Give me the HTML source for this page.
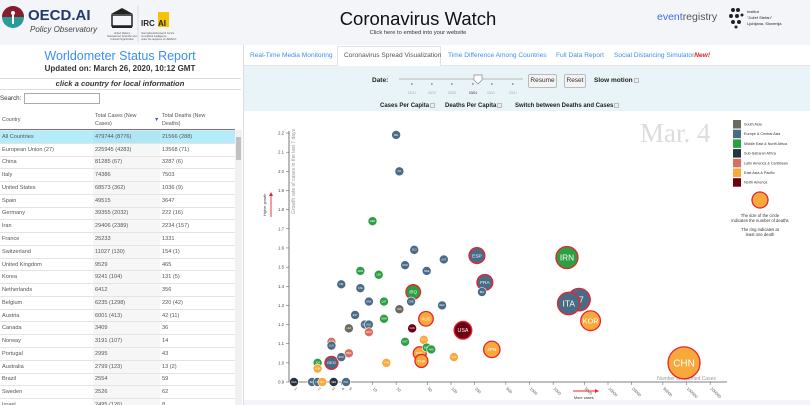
<!DOCTYPE html>
<html><head><meta charset="utf-8">
<style>
*{box-sizing:border-box;margin:0;padding:0}
body{width:810px;height:405px;overflow:hidden;background:#f4f5f9;font-family:"Liberation Sans",sans-serif;position:relative}
.abs{position:absolute}
#left{left:0;top:45px;width:243px;height:360px;background:#fff}
#right{left:244px;top:45px;width:566px;height:355px;background:#fff}
table{border-collapse:collapse;font-size:5.6px;color:#555}
td{height:12.77px;border-top:1px solid #e4e4e4;padding-left:2px;white-space:nowrap}
.tab{position:absolute;top:52px;font-size:6.6px;color:#3b8ff0;white-space:nowrap}
.btn{position:absolute;border:1px solid #bbb;background:#f3f3f3;border-radius:2px;font-size:6.5px;color:#333;text-align:center;line-height:12px}
.cb{display:inline-block;width:5px;height:5px;border:1px solid #bbb;background:#eee;vertical-align:middle;margin-left:1px}
.b{font-weight:bold;font-size:6.5px;color:#222;position:absolute;white-space:nowrap}
</style></head><body>
<!-- header -->
<div class="abs" style="left:0;top:0;width:810px;height:44px;background:#f4f5f9">
  <svg class="abs" style="left:0;top:0" width="270" height="45">
    <circle cx="13" cy="17" r="11" fill="#2a9a9a"/><path d="M2 17 A11 11 0 0 1 24 17 Z" fill="#8a1d2c"/>
    <circle cx="13" cy="13" r="2" fill="#fff"/><rect x="12" y="15" width="2" height="9" fill="#fff"/>
    <text x="28" y="20" font-size="15" font-weight="bold" fill="#1f3a6b" font-family="Liberation Sans">OECD.AI</text>
    <text x="30" y="32" font-size="8" font-style="italic" fill="#444" font-family="Liberation Sans">Policy Observatory</text>
    <path d="M111 14 L122 8 L133 14 Z" fill="#222"/><rect x="112" y="15" width="20" height="11" fill="none" stroke="#222" stroke-width="1.5"/>
    <rect x="112" y="26" width="20" height="2" fill="#222"/>
    <text x="122" y="34" font-size="2.5" text-anchor="middle" fill="#555">United Nations</text>
    <text x="122" y="37" font-size="2.5" text-anchor="middle" fill="#555">Educational, Scientific and</text>
    <text x="122" y="40" font-size="2.5" text-anchor="middle" fill="#555">Cultural Organization</text>
    <line x1="138" y1="5" x2="138" y2="42" stroke="#ccc" stroke-width="0.6"/>
    <rect x="158" y="12" width="11" height="15" fill="#f5c400"/>
    <text x="141" y="26" font-size="8" font-weight="bold" fill="#222">IRC</text><text x="158" y="26" font-size="8" font-weight="bold" fill="#222">AI</text>
    <text x="141" y="34" font-size="2.5" fill="#555">International Research Centre</text>
    <text x="141" y="37" font-size="2.5" fill="#555">on Artificial Intelligence</text>
    <text x="141" y="40" font-size="2.5" fill="#555">under the auspices of UNESCO</text>
  </svg>
  <div class="abs" style="left:320px;top:8px;width:196px;text-align:center;font-size:18.5px;color:#111">Coronavirus Watch</div>
  <div class="abs" style="left:320px;top:30px;width:196px;text-align:center;font-size:5.8px;color:#333">Click here to embed into your website</div>
  <div class="abs" style="left:657px;top:11px;font-size:10.5px;color:#555"><span style="color:#3a6fd8">event</span>registry</div>
  <svg class="abs" style="left:728px;top:7px" width="80" height="24">
    <circle cx="5" cy="3" r="2" fill="#222"/><circle cx="10" cy="3" r="2" fill="#222"/><circle cx="3" cy="9" r="2" fill="#222"/><circle cx="9" cy="9" r="2" fill="#222"/><circle cx="14" cy="8" r="1.5" fill="#222"/><circle cx="5" cy="15" r="2" fill="#222"/><circle cx="11" cy="15" r="2" fill="#222"/><circle cx="8" cy="20" r="1.5" fill="#222"/>
    <text x="19" y="6" font-size="4" fill="#222">Institut</text><text x="19" y="12" font-size="4" fill="#222">"Jožef Stefan"</text><text x="19" y="18" font-size="4" fill="#222">Ljubljana, Slovenija</text>
  </svg>
</div>

<!-- left panel -->
<div class="abs" id="left">
  <div class="abs" style="left:0;top:4px;width:240px;text-align:center;font-size:12.5px;color:#3b8ff0">Worldometer Status Report</div>
  <div class="abs" style="left:0;top:19px;width:240px;text-align:center;font-size:8px;font-weight:bold;color:#333">Updated on: March 26, 2020, 10:12 GMT</div>
  <div class="abs" style="left:0;top:33px;width:241px;height:1px;background:#ddd"></div>
  <div class="abs" style="left:0;top:34px;width:240px;text-align:center;font-size:7.6px;font-weight:bold;font-style:italic;color:#333">click a country for local information</div>
  <div class="abs" style="left:0;top:44px;width:241px;height:1px;background:#ddd"></div>
  <div class="abs" style="left:0;top:50px;font-size:6.2px;color:#333">Search:</div>
  <div class="abs" style="left:24px;top:48px;width:76px;height:11px;border:1px solid #aaa;background:#fff"></div>
  <div class="abs" style="left:0;top:64px;width:235px;height:21px;border-bottom:1px solid #777;font-size:5.3px;color:#555">
    <span class="abs" style="left:2px;top:8px">Country</span>
    <span class="abs" style="left:95px;top:3px;line-height:8px">Total Cases (New<br>Cases)</span>
    <span class="abs" style="left:154px;top:8px;color:#3b5bd8">▼</span>
    <span class="abs" style="left:162px;top:3px;line-height:8px">Total Deaths (New<br>Deaths)</span>
  </div>
  <div class="abs" style="left:0;top:85px;width:235px;height:275px;overflow:hidden">
  <table style="width:235px" id="tbl"><tbody></tbody></table></div>
  <div class="abs" style="left:235px;top:85px;width:7px;height:275px;background:#f1f1f1"><div style="margin:7px 1px;height:23px;background:#c1c1c1"></div></div>
</div>
<div class="abs" style="left:243px;top:45px;width:1px;height:360px;background:#ddd"></div>

<!-- right panel -->
<div class="abs" id="right"></div>
<div class="abs" style="left:244px;top:45px;width:566px;height:21px;background:#fff;border-bottom:1px solid #e3e3e3"></div>
<div class="abs" style="left:337px;top:46px;width:104px;height:21px;border:1px solid #e3e3e3;border-bottom:none;background:#fff"></div>
<span class="tab" style="left:250px">Real-Time Media Monitoring</span>
<span class="tab" style="left:344px;color:#555">Coronavirus Spread Visualization</span>
<span class="tab" style="left:448px">Time Difference Among Countries</span>
<span class="tab" style="left:556px">Full Data Report</span>
<span class="tab" style="left:614px">Social Distancing Simulator<b style="color:#e02020;font-style:italic">New!</b></span>
<div class="abs" style="left:244px;top:66px;width:566px;height:45px;background:#e8f4f8"></div>
<span class="b" style="left:372px;top:77px">Date:</span>
<svg class="abs" style="left:390px;top:70px" width="140" height="28">
  <line x1="9" y1="9" x2="133" y2="9" stroke="#ccc" stroke-width="1.5"/>
  <g fill="#555" font-size="3.2" text-anchor="middle" font-family="Liberation Sans">
  <rect x="21.5" y="13" width="0.8" height="2"/><rect x="41.5" y="13" width="0.8" height="2"/><rect x="61.5" y="13" width="0.8" height="2"/><rect x="82.5" y="13" width="0.8" height="2"/><rect x="101.5" y="13" width="0.8" height="2"/><rect x="122.5" y="13" width="0.8" height="2"/>
  <text x="22" y="24" fill="#aaa">01/31</text><text x="42" y="24" fill="#aaa">02/10</text><text x="62" y="24" fill="#aaa">02/20</text><text x="83" y="24" fill="#333">03/04</text><text x="101" y="24" fill="#aaa">03/11</text><text x="123" y="24" fill="#aaa">03/21</text></g>
  <path d="M84 5 h8 v5 l-4 4 l-4 -4 z" fill="#fff" stroke="#888" stroke-width="0.7"/>
</svg>
<div class="btn" style="left:528px;top:74px;width:29px;height:14px">Resume</div>
<div class="btn" style="left:564px;top:74px;width:22px;height:14px">Reset</div>
<span class="b" style="left:594px;top:77px">Slow motion<span class="cb"></span></span>
<span class="b" style="left:380px;top:103px;font-size:6px">Cases Per Capita<span class="cb"></span></span>
<span class="b" style="left:445px;top:103px;font-size:6px">Deaths Per Capita<span class="cb"></span></span>
<span class="b" style="left:515px;top:103px;font-size:6px">Switch between Deaths and Cases<span class="cb"></span></span>

<svg class="abs" id="chart" style="left:0;top:0" width="810" height="405"></svg>

<script>
// ---- table data ----
const countries=["All Countries","European Union (27)","China","Italy","United States","Spain","Germany","Iran","France","Switzerland","United Kingdom","Korea","Netherlands","Belgium","Austria","Canada","Norway","Portugal","Australia","Brazil","Sweden","Israel"];
const totalCases=["479744 (8776)","225945 (4283)","81285 (67)","74386","68573 (362)","49515","39355 (2032)","29406 (2389)","25233","11027 (130)","9529","9241 (104)","6412","6235 (1298)","6001 (413)","3409","3191 (107)","2995","2799 (123)","2554","2526","2495 (126)"];
const totalDeaths=["21566 (288)","13568 (71)","3287 (6)","7503","1036 (9)","3647","222 (16)","2234 (157)","1331","154 (1)","465","131 (5)","356","220 (42)","42 (11)","36","14","43","13 (2)","59","62","8"];
const tb=document.querySelector('#tbl tbody');
countries.forEach((c,i)=>{
  const tr=document.createElement('tr');
  
  
  if(i===0)tr.style.background='#b3ecfb';
  tr.innerHTML='<td style="width:93px">'+c+'</td><td style="width:67px;background:'+(i===0?'#aee6f5':'#f6f6f6')+'">'+totalCases[i]+'</td><td>'+totalDeaths[i]+'</td>';
  tb.appendChild(tr);
});

// ---- chart data ----
const cases=[20,22,10,34,81,214,26,7,12,49,4,270,248,7,33,9,14,31,77,22,6,14,48,5,8,9,32,9,142,3,26,45,3,5,4,331,40,49,56,42,109,15,2,3,2,1,1.7,2,2.3,3.2,4.6,3000,4270,3160,6000,93000];
const growth=[2.19,2.0,1.74,1.59,1.54,1.56,1.51,1.48,1.46,1.48,1.41,1.42,1.37,1.39,1.37,1.32,1.32,1.32,1.3,1.28,1.25,1.23,1.23,1.18,1.2,1.2,1.18,1.16,1.17,1.11,1.11,1.12,1.09,1.05,1.03,1.07,1.05,1.08,1.07,1.01,1.03,1.0,1.0,1.0,0.97,0.9,0.9,0.9,0.9,0.9,0.9,1.55,1.33,1.31,1.22,1.0];
const deaths=[0,0,0,0,0,10,0,0,0,0,0,10,0,0,6,0,0,0,0,0,0,0,6,0,0,0,0,0,20,0,0,0,0,0,0,12,3,0,0,3,0,0,0,3,0,0,0,0,0,0,0,92,110,107,40,3000];
const regions=["EU","EU","ME","EU","EU","EU","EU","ME","ME","EU","EU","EU","EU","EU","ME","EU","ME","EU","EU","SA","EU","ME","EA","SA","EU","EU","NA","LA","NA","LA","ME","EA","EU","LA","EU","EA","EA","ME","ME","EA","EA","EA","ME","EU","EA","SS","EU","EU","EA","SS","EU","ME","EU","EU","EA","EA"];
const labels=["NRL","ISL","GEO","SLO","AUT","ESP","NOR","ARM","LBN","SWE","FIN","FRA","BEL","CZE","IRQ","DNK","QAT","CHE","DEU","IND","EST","OMN","AUS","LKA","HRV","NLD","CAN","ECU","USA","MEX","KWT","MYS","LUX","BRA","ROU","JPN","PHL","BHR","ARE","THA","SGP","VNM","JOR","GEO","KHM","NGA","BLR","LTU","NPL","SEN","POL","IRN","27","ITA","KOR","CHN"];
const legendNames=["South Asia","Europe & Central Asia","Middle East & North Africa","Sub-Saharan Africa","Latin America & Caribbean","East Asia & Pacific","North America"];
const legendKeys=["SA","EU","ME","SS","LA","EA","NA"];
const colors={SA:"#6c6b62",EU:"#4a6b86",ME:"#2e9e43",SS:"#283340",LA:"#d9705f",EA:"#f7a93b",NA:"#6b0012"};
const yTicks=[0.9,1.0,1.1,1.2,1.3,1.4,1.5,1.6,1.7,1.8,1.9,2.0,2.1,2.2];
const xTicks=[1,2,3,4,5,10,20,50,100,200,500,1000,2000,5000,10000,20000,50000,100000,200000];

const X=v=>294+78.5*Math.log10(v);
const Y=g=>382-(g-0.9)*191.5;
const R=d=>4.5+3.3*Math.log10(d+1);
const NS='http://www.w3.org/2000/svg';
const svg=document.getElementById('chart');
function mk(t,a,p){const e=document.createElementNS(NS,t);for(const k in a)e.setAttribute(k,a[k]);(p||svg).appendChild(e);return e;}

const wm=mk('text',{x:640,y:142,'font-size':27,fill:'#dcdcdc','font-family':'Liberation Serif'});wm.textContent='Mar. 4';



const ya=mk('line',{x1:289,y1:131,x2:289,y2:382,stroke:'#555','stroke-width':0.8});


const xa=mk('line',{x1:289,y1:382,x2:727,y2:382,stroke:'#555','stroke-width':0.8});


yTicks.forEach(t=>{
  mk('line',{x1:286,y1:Y(t),x2:289,y2:Y(t),stroke:'#555','stroke-width':0.5});
  const tx=mk('text',{x:284,y:Y(t)+1.5,'font-size':4.2,'text-anchor':'end',fill:'#444'});tx.textContent=t.toFixed(1);
  
  
});
xTicks.forEach(t=>{
  const x=X(t);
  mk('line',{x1:x,y1:382,x2:x,y2:385,stroke:'#555','stroke-width':0.5});
  const tx=mk('text',{x:x,y:389,'font-size':4,fill:'#555',transform:`rotate(45 ${x} 389)`});tx.textContent=t;
  
  
});
const yt=mk('text',{x:0,y:0,'font-size':5,fill:'#999',transform:'translate(295 214) rotate(-90)'});yt.textContent='Growth rate of cases in the last 7 days';


const hg=mk('text',{x:0,y:0,'font-size':3.6,fill:'#333',transform:'translate(266 216) rotate(-90)'});hg.textContent='Higher growth';


mk('line',{x1:271,y1:217,x2:271,y2:194,stroke:'#e8242b','stroke-width':0.9});
mk('path',{d:'M269 196 L271 192 L273 196 Z',fill:'#e8242b'});
const xt=mk('text',{x:716,y:380,'font-size':5,fill:'#999','text-anchor':'end'});xt.textContent='Number of reported Cases';


mk('line',{x1:573,y1:391,x2:596,y2:391,stroke:'#e8242b','stroke-width':0.9});
mk('path',{d:'M595 389 L599 391 L595 393 Z',fill:'#e8242b'});
const mc=mk('text',{x:574,y:399,'font-size':3.8,fill:'#333'});mc.textContent='More cases';



const idx=cases.map((_,i)=>i).sort((a,b)=>deaths[b]-deaths[a]);
idx.forEach(i=>{
  const cx=X(cases[i]),cy=Y(growth[i]),r=R(deaths[i]);
  const g=mk('g',{});
  
  
  mk('circle',{cx,cy,r,fill:colors[regions[i]],stroke:deaths[i]>0?'#e8242b':'#fff','stroke-width':deaths[i]>0?1.3:0.6},g);
  const fs=r>9?Math.min(r*0.75,10):r>6?r*0.6:2.4;
  const t=mk('text',{x:cx,y:cy+fs*0.35,'font-size':fs,fill:'#fff','text-anchor':'middle'},g);t.textContent=labels[i];
});

legendNames.forEach((n,i)=>{
  const y=120+i*9.7;
  const g=mk('g',{});
  
  
  mk('rect',{x:733,y:y,width:8,height:8.5,fill:colors[legendKeys[i]]},g);
  const t=mk('text',{x:744,y:y+5.5,'font-size':3.7,fill:'#333'},g);t.textContent=n;
});
const lc=mk('circle',{cx:760,cy:200,r:8,fill:'#f7a93b',stroke:'#e8242b','stroke-width':1.3});


[["The size of the circle",217],["indicates the number of deaths",222],["The ring indicates at",231],["least one death",236]].forEach(a=>{
  const t=mk('text',{x:760,y:a[1],'font-size':4.2,fill:'#333','text-anchor':'middle'});t.textContent=a[0];
  
  
});
</script>
</body></html>
